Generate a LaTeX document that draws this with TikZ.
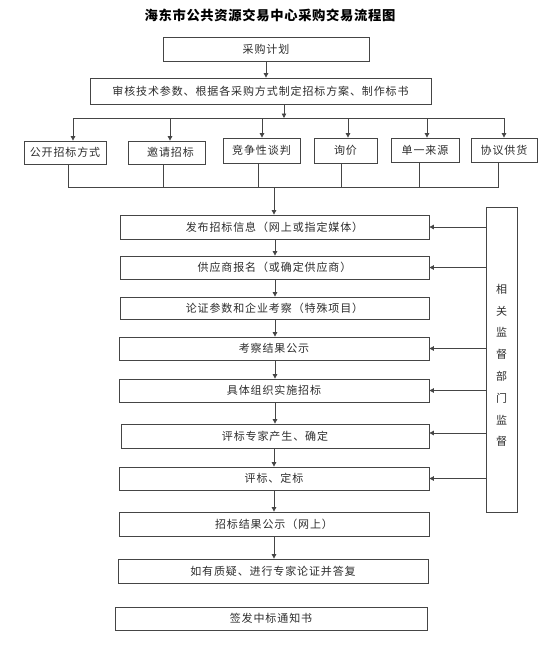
\documentclass[tikz,border=0pt]{standalone}
\usepackage{fontspec}
\usetikzlibrary{arrows.meta}
\newfontfamily\cjk{Noto Sans CJK SC}[LetterSpace=8]
\newfontfamily\cjktitle{Noto Sans CJK SC}[LetterSpace=5]
\definecolor{linec}{HTML}{454545}
\definecolor{textc}{HTML}{2E2E2E}
\tikzset{
  box/.style={draw=linec, line width=0.8pt, inner sep=0pt, text=textc,
    font=\cjk\fontsize{11}{12}\selectfont},
  conn/.style={draw=linec, line width=0.8pt},
  arr/.style={conn, -{Triangle[length=4.5pt,width=4.5pt]}},
}
\begin{document}
\begin{tikzpicture}[x=1pt,y=-1pt]
\useasboundingbox (0,0) rectangle (554,645);
\fill[white] (0,0) rectangle (554,645);

\node[text=black, font=\cjktitle\bfseries\fontsize{13.3}{15}\selectfont] (title) at (270,15) {海东市公共资源交易中心采购交易流程图};

\node[box, minimum width=206pt, minimum height=24pt] (plan) at (266,49) {采购计划};
\node[box, minimum width=341pt, minimum height=26pt] (review) at (260.5,91) {审核技术参数、根据各采购方式制定招标方案、制作标书};

\node[box, minimum width=82pt, minimum height=23pt] (m1) at (65,152.5) {公开招标方式};
\node[box, minimum width=77pt, minimum height=23pt] (m2) at (166.5,152.5) {\hspace{8pt}邀请招标};
\node[box, minimum width=77pt, minimum height=25pt] (m3) at (261.5,150.5) {竞争性谈判};
\node[box, minimum width=63pt, minimum height=25pt] (m4) at (345.5,150.5) {询价};
\node[box, minimum width=68pt, minimum height=24pt] (m5) at (425,150) {单一来源};
\node[box, minimum width=66pt, minimum height=24pt] (m6) at (504,150) {协议供货};

\node[box, minimum width=309pt, minimum height=24pt] (A) at (274.5,227) {发布招标信息（网上或指定媒体）};
\node[box, minimum width=309pt, minimum height=23pt] (B) at (274.5,267.5) {供应商报名（或确定供应商）};
\node[box, minimum width=309pt, minimum height=22pt] (C) at (274.5,308) {论证参数和企业考察（特殊项目）};
\node[box, minimum width=310pt, minimum height=23pt] (D) at (274,348.5) {考察结果公示};
\node[box, minimum width=310pt, minimum height=23pt] (E) at (274,390.5) {具体组织实施招标};
\node[box, minimum width=308pt, minimum height=24pt] (F) at (275,436) {评标专家产生、确定};
\node[box, minimum width=310pt, minimum height=23pt] (G) at (274,478.5) {评标、定标};
\node[box, minimum width=310pt, minimum height=24pt] (H) at (274,524) {招标结果公示（网上）};
\node[box, minimum width=310pt, minimum height=24pt] (I) at (273,571) {如有质疑、进行专家论证并答复};
\node[box, minimum width=312pt, minimum height=23pt] (J) at (271,618.5) {签发中标通知书};

\node[box, minimum width=31pt, minimum height=305pt] (mon) at (501.5,359.5) {};
\node[text=textc, font=\cjk\fontsize{11}{21.8}\selectfont, align=center, inner sep=0pt] (montext) at (501.5,365.5) {相\\关\\监\\督\\部\\门\\监\\督};

% top connectors
\draw[arr] (plan.south) -- (plan.south |- review.north);
\coordinate (bus) at (284,118);
\draw[arr] (bus |- review.south) -- (bus);
\coordinate (t1) at (73,118);
\coordinate (t2) at (170,118);
\coordinate (t3) at (262,118);
\coordinate (t4) at (348,118);
\coordinate (t5) at (427,118);
\coordinate (t6) at (504,118);
\draw[conn] (t1) -- (t6);
\draw[arr] (t1) -- (t1 |- m1.north);
\draw[arr] (t2) -- (t2 |- m2.north);
\draw[arr] (t3) -- (t3 |- m3.north);
\draw[arr] (t4) -- (t4 |- m4.north);
\draw[arr] (t5) -- (t5 |- m5.north);
\draw[arr] (t6) -- (t6 |- m6.north);

% bottom collector
\coordinate (b1) at (68,187);
\coordinate (b2) at (163,187);
\coordinate (b3) at (258,187);
\coordinate (b4) at (341,187);
\coordinate (b5) at (419,187);
\coordinate (b6) at (498,187);
\coordinate (bm) at (274,187);
\draw[conn] (b1 |- m1.south) -- (b1) -- (b6) -- (b6 |- m6.south);
\draw[conn] (b2 |- m2.south) -- (b2);
\draw[conn] (b3 |- m3.south) -- (b3);
\draw[conn] (b4 |- m4.south) -- (b4);
\draw[conn] (b5 |- m5.south) -- (b5);
\draw[arr] (bm) -- (bm |- A.north);

% main flow
\coordinate (fx) at (275,0);
\draw[arr] (fx |- A.south) -- (fx |- B.north);
\draw[arr] (fx |- B.south) -- (fx |- C.north);
\draw[arr] (fx |- C.south) -- (fx |- D.north);
\draw[arr] (fx |- D.south) -- (fx |- E.north);
\draw[arr] (fx |- E.south) -- (fx |- F.north);
\coordinate (fy) at (274,0);
\draw[arr] (fy |- F.south) -- (fy |- G.north);
\draw[arr] (fy |- G.south) -- (fy |- H.north);
\draw[arr] (fy |- H.south) -- (fy |- I.north);

% supervision arrows
\draw[arr] (mon.west |- A.east) -- (A.east);
\draw[arr] (mon.west |- B.east) -- (B.east);
\draw[arr] (mon.west |- D.east) -- (D.east);
\draw[arr] (mon.west |- E.east) -- (E.east);
\coordinate (fa) at (0,433);
\draw[arr] (mon.west |- fa) -- (F.east |- fa);
\draw[arr] (mon.west |- G.east) -- (G.east);
\end{tikzpicture}
\end{document}
